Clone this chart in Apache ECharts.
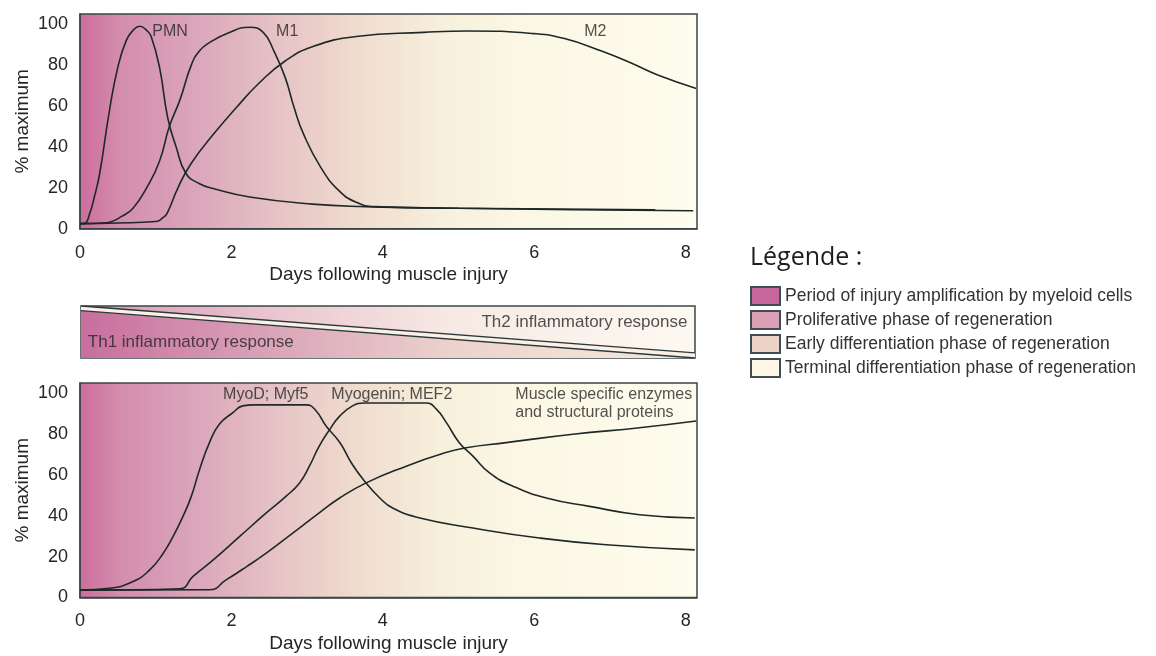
<!DOCTYPE html>
<html><head><meta charset="utf-8">
<script src="https://cdn.jsdelivr.net/npm/echarts@6/dist/echarts.min.js"></script>
<style>html,body{margin:0;padding:0;background:#fff}#c{width:1156px;height:656px}</style>
</head><body><div id="c"></div>
<script>
// ---- data (days, % maximum) ----
var pmn = [[0,2.5],[0.06,2.6],[0.13,7.7],[0.19,15.6],[0.26,27],[0.39,58],[0.5,79],[0.61,92],[0.7,97],[0.79,99],[0.88,97],[0.94,94],[1.05,79],[1.16,54],[1.27,40],[1.4,27],[1.58,22],[1.77,19.5],[2.24,15.5],[3.07,12],[3.77,10.8],[5,10],[6.5,9.3],[8.1,8.8]];
var m1 = [[0,2.5],[0.3,2.8],[0.39,3.2],[0.55,6],[0.7,10],[0.88,20],[1.05,33],[1.18,50],[1.32,63],[1.47,80],[1.58,87],[1.71,91],[1.95,95.6],[2.24,98.5],[2.42,96],[2.56,87],[2.71,74],[2.83,59],[2.95,46.5],[3.18,30],[3.42,18.6],[3.65,12.9],[3.89,10.8],[5,10],[7.6,9.3]];
var m2 = [[0,2.5],[0.5,2.8],[1.0,3.5],[1.1,5.5],[1.15,7.5],[1.3,20.5],[1.47,32],[1.77,46.5],[2.06,59],[2.36,71],[2.71,82],[3.07,89],[3.65,94],[4.54,96],[5.13,96.7],[6.0,95.4],[6.4,93],[6.88,87],[7.28,81],[7.64,75],[8.14,68.6]];

var myod = [[0,3.6],[0.39,4.5],[0.7,7.8],[0.92,13.5],[1.1,21.7],[1.23,29.9],[1.36,39.7],[1.47,49.5],[1.58,62.7],[1.71,75.8],[1.84,84.8],[2.02,90.5],[2.15,93.8],[2.3,94.3],[2.99,94.3],[3.12,91.3],[3.25,83.9],[3.43,76],[3.6,65],[3.78,56],[3.96,48.7],[4.13,43.8],[4.49,38.9],[5.19,34],[6.07,29.1],[6.95,25.8],[8.12,23.3]];
var myogenin = [[0,3.6],[1.32,4.3],[1.49,10.2],[1.76,18.4],[2.11,29.9],[2.46,41.4],[2.72,49.5],[2.9,56.1],[3.03,64.3],[3.16,74.1],[3.3,82.3],[3.43,88.8],[3.6,93.8],[3.75,95.2],[4.57,95.2],[4.71,92.1],[4.84,85.6],[5.01,75.8],[5.19,69.2],[5.41,61],[5.72,54.5],[6.16,48.7],[6.73,44.6],[7.39,40.5],[8.12,38.9]];
var enzymes = [[0,3.6],[1.71,3.8],[1.93,8.6],[2.2,15.1],[2.46,21.7],[2.81,31.5],[3.16,41.4],[3.43,48.7],[3.78,56.1],[4.31,64.3],[4.75,70],[5.1,73.3],[5.63,75.8],[6.51,79.9],[7.39,83.1],[8.14,86.4]];

// Th1 / Th2 band separator (days, fraction of band height)
var bandUpper = [[0,1],[8.12,0.1]];
var bandLower = [[0,0.91],[8.12,0]];
var bandTriangle = [[0,0.91],[8.12,0],[0,0]];

// annotations [days, value, text, align]
var topLabels = [[0.955,96.2,'PMN'],[2.59,96.2,'M1'],[6.66,96.2,'M2']];
var bottomLabels = [[1.89,99.5,'MyoD; Myf5'],[3.32,99.5,'Myogenin; MEF2'],[5.75,95.15,'Muscle specific enzymes\nand structural proteins']];
var bandLabels = [[8.02,0.687,'Th2 inflammatory response','right'],[0.09,0.294,'Th1 inflammatory response','left']];

var legendNames = ['Period of injury amplification by myeloid cells','Proliferative phase of regeneration','Early differentiation phase of regeneration','Terminal differentiation phase of regeneration'];
var legendColors = ['#c8679b','#daa1b6','#edd3c5','#fdf6e4'];

var FONT = '"Liberation Sans", Arial, sans-serif';
var TXT = '#262626';
var LINE = '#1f2828';
var BORDER = '#3a4746';

function grad(stops){
  return new echarts.graphic.LinearGradient(0,0,1,0, stops.map(function(s){ return {offset:s[0], color:s[1]}; }));
}
var chartBg = [[0,'#cd6c9e'],[0.065,'#d38dad'],[0.19,'#dba6bb'],[0.32,'#e6c3c5'],[0.45,'#f0dccf'],[0.58,'#f6efdb'],[0.705,'#fbf7e4'],[1,'#fefcee']];

function xLabel(v){ return (Math.round(v) === v && v % 2 === 0) ? String(v) : ''; }
function yLabel(v){ return (v % 20 === 0) ? String(v) : ''; }

function xAx(gi){ return {
  type:'value', gridIndex:gi, min:0, max:8.15, interval:2,
  axisLine:{show:true, lineStyle:{color:BORDER, width:1.5}}, axisTick:{show:false}, splitLine:{show:false},
  axisLabel:{margin:15, fontSize:18, color:TXT, fontFamily:FONT, formatter:xLabel},
  name:'Days following muscle injury', nameLocation:'middle', nameGap:37, nameMoveOverlap:false,
  nameTextStyle:{fontSize:19, color:TXT, fontFamily:FONT}
};}
function yAx(gi){ return {
  type:'value', gridIndex:gi, min:0, max:105, interval:20,
  axisLine:{show:true, lineStyle:{color:BORDER, width:1.5}}, axisTick:{show:false}, splitLine:{show:false},
  axisLabel:{margin:12, fontSize:18, color:TXT, fontFamily:FONT, formatter:yLabel},
  name:'% maximum', nameLocation:'middle', nameGap:48, nameRotate:90, nameMoveOverlap:false,
  nameTextStyle:{fontSize:19, color:TXT, fontFamily:FONT}
};}
function curve(name, data, gi){ return {
  name:name, type:'line', xAxisIndex:gi, yAxisIndex:gi, data:data, symbol:'none', smooth:0.5,
  lineStyle:{color:LINE, width:1.6}, silent:true, z:3
};}
function labels(gi, items, fontSize){ return {
  type:'scatter', xAxisIndex:gi, yAxisIndex:gi, symbolSize:1, itemStyle:{color:'rgba(0,0,0,0)'}, silent:true, z:5,
  data: items.map(function(it){ return {value:[it[0], it[1]], name:it[2],
    label:{show:true, position:'inside', formatter:'{b}', align: it[3] || 'left', verticalAlign:'middle',
      fontSize:fontSize, color:TXT, fontFamily:FONT, lineHeight:18}}; })
};}
function bandRender(params, api){
  var tri = bandTriangle.map(function(p){ return api.coord(p); });
  var up = bandUpper.map(function(p){ return api.coord(p); });
  var lo = bandLower.slice().reverse().map(function(p){ return api.coord(p); });
  return {type:'group', children:[
    {type:'polygon', shape:{points:tri}, style:{fill:grad([[0,'#c86e9e'],[0.3,'#d9a2b8'],[0.6,'#ecd2cd'],[1,'#f6eadc']])}},
    {type:'polygon', shape:{points:up.concat(lo)}, style:{fill:'#fcefe6'}}
  ]};
}

var series = [
  curve('PMN', pmn, 0), curve('M1', m1, 0), curve('M2', m2, 0),
  labels(0, topLabels, 16),
  {type:'custom', xAxisIndex:1, yAxisIndex:1, data:[[0,0]], silent:true, z:1, renderItem:bandRender},
  {type:'line', xAxisIndex:1, yAxisIndex:1, data:bandUpper, symbol:'none', lineStyle:{color:'#263a3a', width:1.3}, silent:true, z:3},
  {type:'line', xAxisIndex:1, yAxisIndex:1, data:bandLower, symbol:'none', lineStyle:{color:'#263a3a', width:1.3}, silent:true, z:3},
  labels(1, bandLabels, 17),
  curve('MyoD; Myf5', myod, 2), curve('Myogenin; MEF2', myogenin, 2), curve('Muscle specific enzymes', enzymes, 2),
  labels(2, bottomLabels, 16)
];
legendNames.forEach(function(n, i){
  series.push({name:n, type:'bar', xAxisIndex:2, yAxisIndex:2, data:[],
    itemStyle:{color:legendColors[i], borderColor:'#3f4d57', borderWidth:1.2}});
});

var chart = echarts.init(document.getElementById('c'));
chart.setOption({
  animation:false,
  title:{text:'Légende :', left:750, top:245, padding:0, textStyle:{fontFamily:'"Open Sans", sans-serif', fontSize:25, fontWeight:'normal', color:'#1e1e1e'}},
  legend:{orient:'vertical', left:750, top:286, padding:0, itemWidth:29, itemHeight:18, itemGap:4, icon:'rect', selectedMode:false,
    textStyle:{fontSize:17.5, color:'#333', fontFamily:FONT, lineHeight:18}, data:legendNames},
  grid:[
    {left:80, top:14, width:617, height:214.7, show:true, backgroundColor:grad(chartBg), borderColor:BORDER, borderWidth:1.5},
    {left:81, top:306, width:614, height:52, show:true, backgroundColor:grad([[0,'#d897b3'],[0.3,'#e9c4cf'],[0.6,'#f7e9e4'],[1,'#fdf9f1']]), borderColor:BORDER, borderWidth:1.5},
    {left:80, top:383, width:617, height:214.5, show:true, backgroundColor:grad(chartBg), borderColor:BORDER, borderWidth:1.5}
  ],
  xAxis:[xAx(0), {type:'value', gridIndex:1, min:0, max:8.12, show:false}, xAx(2)],
  yAxis:[yAx(0), {type:'value', gridIndex:1, min:0, max:1, show:false}, yAx(2)],
  series:series
});
</script></body></html>
